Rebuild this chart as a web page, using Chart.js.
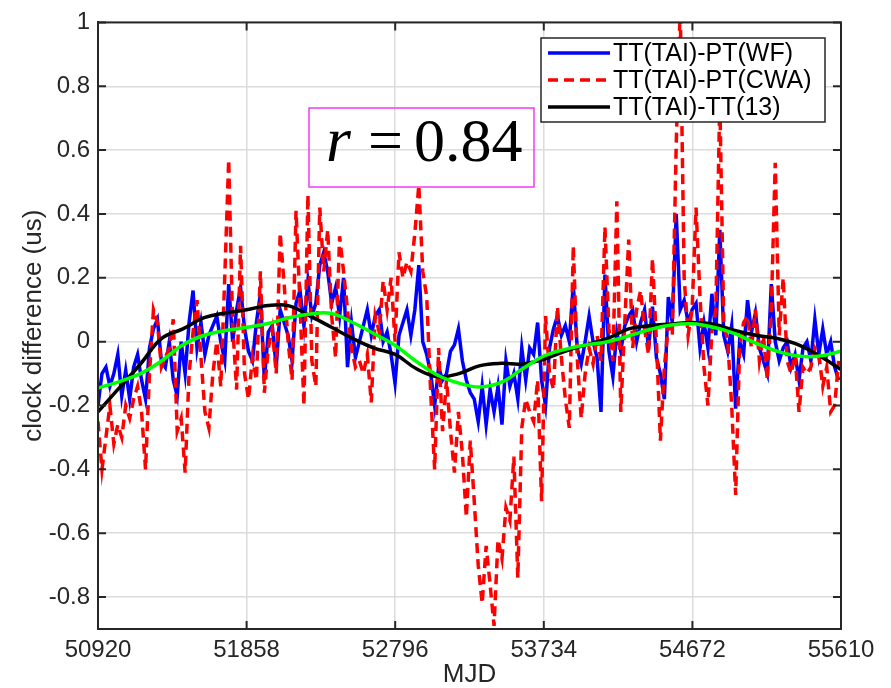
<!DOCTYPE html>
<html>
<head>
<meta charset="utf-8">
<script src="https://cdn.jsdelivr.net/npm/chart.js@4.4.1/dist/chart.umd.min.js"></script>
<style>
html,body{margin:0;padding:0;background:#fff;}
#wrap{width:891px;height:688px;position:relative;}
</style>
</head>
<body>
<div id="wrap"><canvas id="c" width="891" height="688"></canvas></div>
<script>
// ---- data ----
const startMJD = 50920;
const stepMJD = 25;
const smoothStepMJD = 134;

const seriesLabels = ['TT(TAI)-PT(WF)', 'TT(TAI)-PT(CWA)', 'TT(TAI)-TT(13)'];
const fitLabel = 'fit';

const wfValues = [
 -0.20,-0.10,-0.08,-0.14,-0.10,-0.04,-0.17,-0.09,-0.18,-0.08,
 -0.04,-0.12,-0.18,-0.02,0.04,0.07,-0.06,-0.08,0.00,-0.12,
 -0.17,0.00,-0.10,0.06,0.16,-0.02,0.06,-0.04,0.02,0.05,
 0.08,0.00,-0.06,0.18,0.00,0.10,0.17,0.04,-0.03,-0.06,
 0.06,0.15,-0.12,0.03,0.05,-0.08,0.10,0.06,0.02,-0.06,
 0.12,0.16,0.05,0.19,0.08,0.12,0.24,0.28,0.22,0.12,
 0.17,0.08,0.20,-0.08,0.06,-0.05,0.00,0.05,0.10,0.02,
 0.08,0.10,0.00,0.03,-0.04,-0.13,0.02,0.06,0.10,0.02,
 0.10,0.24,0.00,-0.04,-0.10,-0.20,-0.08,-0.12,-0.10,-0.03,
 -0.01,0.04,-0.06,-0.12,-0.16,-0.18,-0.25,-0.14,-0.26,-0.15,
 -0.22,-0.14,-0.26,-0.06,-0.14,-0.10,-0.18,-0.02,-0.12,-0.02,
 -0.04,0.06,-0.12,-0.20,-0.02,0.04,0.08,0.02,0.05,0.00,
 0.18,-0.02,-0.07,0.00,0.08,0.00,-0.05,-0.22,0.21,-0.03,
 -0.11,0.03,-0.03,0.05,0.08,0.10,0.00,0.06,0.10,-0.02,
 0.11,-0.05,-0.10,-0.18,0.14,0.06,0.40,0.10,0.13,0.06,
 0.10,0.12,-0.02,0.06,-0.02,0.15,0.02,0.35,0.02,-0.03,
 0.05,-0.21,0.00,-0.04,0.13,0.03,0.09,-0.02,-0.06,-0.10,
 0.18,0.00,-0.06,-0.02,0.00,-0.08,-0.04,-0.12,-0.02,0.00,
 -0.06,0.07,-0.04,0.04,-0.04,0.00,-0.08,-0.12
];

const cwaValues = [
 -0.25,-0.40,-0.30,-0.20,-0.32,-0.26,-0.30,-0.20,-0.24,-0.18,
 -0.14,-0.22,-0.40,-0.10,0.10,0.06,-0.08,-0.05,-0.02,0.07,
 -0.28,-0.24,-0.41,-0.10,0.03,0.13,-0.05,-0.22,-0.27,-0.10,
 0.00,-0.14,0.20,0.57,0.05,-0.15,0.30,-0.10,-0.18,-0.05,
 -0.12,0.22,-0.16,-0.02,0.04,-0.10,0.34,0.18,0.00,-0.12,
 0.41,0.12,-0.20,0.46,-0.06,-0.14,0.42,0.22,0.35,0.08,
 -0.05,0.33,0.22,0.10,-0.02,-0.08,-0.06,-0.10,-0.04,-0.19,
 0.08,0.03,0.19,0.10,0.20,0.00,0.28,0.20,0.25,0.22,
 0.34,0.49,0.22,0.14,-0.16,-0.40,-0.02,-0.28,-0.12,-0.28,
 -0.41,-0.22,-0.35,-0.55,-0.31,-0.50,-0.70,-0.82,-0.64,-0.76,
 -0.89,-0.62,-0.68,-0.52,-0.56,-0.36,-0.74,-0.27,-0.18,-0.22,
 -0.25,-0.12,-0.50,0.08,-0.10,-0.15,0.11,-0.05,-0.18,-0.27,
 0.30,-0.05,-0.24,-0.10,-0.02,-0.07,0.02,-0.06,0.36,0.04,
 -0.06,0.44,-0.22,0.06,0.32,-0.02,0.10,0.16,0.04,-0.04,
 0.26,0.00,-0.31,-0.08,0.05,0.02,0.62,1.05,0.20,0.02,
 0.10,0.42,0.14,-0.08,-0.20,0.03,0.10,0.76,0.06,0.00,
 -0.20,-0.48,-0.02,0.06,0.08,-0.02,0.10,-0.06,0.02,-0.12,
 0.10,0.56,0.02,0.20,-0.06,-0.10,-0.04,-0.22,-0.08,-0.10,
 -0.08,-0.02,-0.04,-0.14,-0.08,-0.22,-0.20,-0.06
];

const tt13Values = [
 -0.22,-0.145,-0.07,0.01,0.04,0.075,0.09,0.10,0.113,0.112,
 0.08,0.045,0.01,-0.02,-0.04,-0.085,-0.11,-0.10,-0.075,-0.068,
 -0.07,-0.055,-0.03,-0.01,0.01,0.04,0.05,0.055,0.06,0.055,
 0.035,0.02,0.01,-0.01,-0.045,-0.087
];

const fitValues = [
 -0.145,-0.125,-0.10,-0.06,-0.01,0.02,0.035,0.045,0.057,0.075,
 0.087,0.088,0.06,0.025,-0.012,-0.062,-0.105,-0.13,-0.142,-0.127,
 -0.085,-0.045,-0.024,-0.01,0.0,0.018,0.038,0.052,0.056,0.045,
 0.025,-0.005,-0.03,-0.045,-0.045,-0.03
];

const xTicks = [50920, 51858, 52796, 53734, 54672, 55610];
const yTicks = [-0.8, -0.6, -0.4, -0.2, 0, 0.2, 0.4, 0.6, 0.8, 1];
const corrSymbol = 'r';
const corrValue = '0.84';

// ---- build library data ----
const noisyMJD = wfValues.map((_, i) => startMJD + i * stepMJD);
const smoothMJD = tt13Values.map((_, i) => startMJD + i * smoothStepMJD);
const toXY = (xs, ys) => xs.map((x, i) => ({x: x, y: ys[i]}));

const AX = '#262626';
const SANS = "'Liberation Sans', Arial, sans-serif";

const framePlugin = {
  id: 'frame',
  afterDatasetsDraw(chart) {
    const {ctx, chartArea: a, scales: {x, y}} = chart;
    ctx.save();
    ctx.strokeStyle = AX;
    ctx.lineWidth = 2;
    const tl = 8;
    ctx.beginPath();
    xTicks.forEach(v => {
      const px = x.getPixelForValue(v);
      ctx.moveTo(px, a.bottom); ctx.lineTo(px, a.bottom - tl);
      ctx.moveTo(px, a.top); ctx.lineTo(px, a.top + tl);
    });
    yTicks.forEach(v => {
      const py = y.getPixelForValue(v);
      ctx.moveTo(a.left, py); ctx.lineTo(a.left + tl, py);
      ctx.moveTo(a.right, py); ctx.lineTo(a.right - tl, py);
    });
    ctx.stroke();
    ctx.strokeRect(a.left, a.top, a.right - a.left, a.bottom - a.top);
    ctx.restore();
  }
};

const overlayPlugin = {
  id: 'overlay',
  afterDraw(chart) {
    const ctx = chart.ctx;
    ctx.save();
    // correlation annotation
    ctx.strokeStyle = '#f03cf0';
    ctx.lineWidth = 1.5;
    ctx.strokeRect(309, 108, 225, 79);
    ctx.fillStyle = '#000';
    ctx.textBaseline = 'alphabetic';
    ctx.font = "italic 64px 'Liberation Serif', 'Times New Roman', serif";
    ctx.fillText(corrSymbol, 326, 161);
    ctx.font = "62px 'Liberation Serif', 'Times New Roman', serif";
    ctx.fillText('=', 368, 161);
    ctx.fillText(corrValue, 414, 161);

    // legend
    const lx = 541, ly = 38, lw = 284, lh = 84;
    ctx.fillStyle = '#fff';
    ctx.fillRect(lx, ly, lw, lh);
    ctx.strokeStyle = AX;
    ctx.lineWidth = 1.5;
    ctx.strokeRect(lx, ly, lw, lh);
    ctx.font = "25px " + SANS;
    ctx.textBaseline = 'middle';
    for (let i = 0; i < 3; i++) {
      const ds = chart.data.datasets[i];
      const yy = ly + 15 + i * 27;
      ctx.beginPath();
      ctx.setLineDash(ds.borderDash || []);
      ctx.strokeStyle = ds.borderColor;
      ctx.lineWidth = ds.borderWidth;
      ctx.moveTo(lx + 7, yy);
      ctx.lineTo(lx + 69, yy);
      ctx.stroke();
      ctx.setLineDash([]);
      ctx.fillStyle = '#000';
      ctx.fillText(ds.label, lx + 72, yy + 1);
    }
    ctx.restore();
  }
};

new Chart(document.getElementById('c'), {
  type: 'line',
  data: {
    datasets: [
      {label: seriesLabels[0], data: toXY(noisyMJD, wfValues), borderColor: '#0000ff', borderWidth: 3.5,
       pointRadius: 0, tension: 0, order: 4, clip: 0},
      {label: seriesLabels[1], data: toXY(noisyMJD, cwaValues), borderColor: '#ff0000', borderWidth: 3.5,
       borderDash: [10, 6], pointRadius: 0, tension: 0, order: 3, clip: 0},
      {label: seriesLabels[2], data: toXY(smoothMJD, tt13Values), borderColor: '#000000', borderWidth: 3.5,
       pointRadius: 0, tension: 0.4, order: 2, clip: 0},
      {label: fitLabel, data: toXY(smoothMJD, fitValues), borderColor: '#00ff00', borderWidth: 3.5,
       pointRadius: 0, tension: 0.4, order: 1, clip: 0}
    ]
  },
  options: {
    responsive: false,
    animation: false,
    devicePixelRatio: 1,
    layout: {padding: {left: 0, top: 19, right: 50, bottom: 0}},
    plugins: {legend: {display: false}, tooltip: {enabled: false}},
    scales: {
      x: {
        type: 'linear', min: xTicks[0], max: xTicks[xTicks.length - 1],
        afterBuildTicks: s => { s.ticks = xTicks.map(v => ({value: v})); },
        afterFit: s => { s.height = 59; },
        ticks: {callback: v => String(v), font: {size: 24, family: SANS}, color: AX, padding: 7,
                maxRotation: 0, autoSkip: false},
        grid: {color: '#dcdcdc', lineWidth: 1.5, drawTicks: false},
        border: {color: AX, width: 2},
        title: {display: true, text: 'MJD', color: AX, font: {size: 26, family: SANS, lineHeight: 1},
                padding: {top: 0, bottom: 0}}
      },
      y: {
        type: 'linear', min: -0.9, max: 1,
        afterBuildTicks: s => { s.ticks = yTicks.map(v => ({value: v})); },
        afterFit: s => { s.width = 98; },
        ticks: {callback: v => String(Math.round(v * 10) / 10), font: {size: 24, family: SANS}, color: AX,
                padding: 8, autoSkip: false},
        grid: {color: '#dcdcdc', lineWidth: 1.5, drawTicks: false},
        border: {color: AX, width: 2},
        title: {display: true, text: 'clock difference (us)', color: AX, font: {size: 26, family: SANS},
                padding: {top: 18, bottom: 0}}
      }
    }
  },
  plugins: [framePlugin, overlayPlugin]
});
</script>
</body>
</html>
